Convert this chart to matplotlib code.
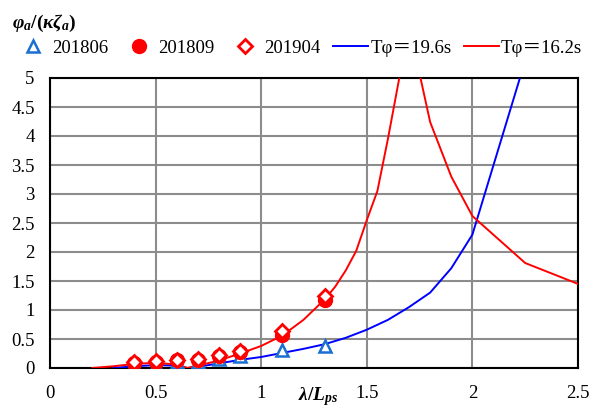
import matplotlib
matplotlib.use("Agg")
import matplotlib.pyplot as plt
from matplotlib.lines import Line2D

plt.rcParams['font.family'] = ['Liberation Serif', 'Noto Sans CJK SC', 'DejaVu Sans']
plt.rcParams['mathtext.fontset'] = 'custom'
plt.rcParams['mathtext.it'] = 'Liberation Serif:bold:italic'
plt.rcParams['mathtext.rm'] = 'Liberation Serif:bold'
plt.rcParams['mathtext.bf'] = 'Liberation Serif:bold'

# measured points
x_meas = [0.4, 0.5, 0.6, 0.7, 0.8, 0.9, 1.1, 1.3]
y_201806 = [0.05, 0.06, 0.10, 0.10, 0.15, 0.20, 0.31, 0.38]
y_201809 = [0.08, 0.10, 0.13, 0.14, 0.20, 0.28, 0.57, 1.17]
y_201904 = [0.10, 0.12, 0.13, 0.16, 0.22, 0.30, 0.64, 1.25]

# calculated curves
x_t196 = [0.3, 0.4, 0.5, 0.6, 0.65, 0.7, 0.8, 0.9, 1.0, 1.1, 1.2, 1.3, 1.4, 1.5, 1.6, 1.7, 1.8, 1.9, 2.0, 2.1, 2.2, 2.25]
y_t196 = [0.0, 0.03, 0.05, 0.04, 0.0, 0.02, 0.08, 0.14, 0.19, 0.26, 0.33, 0.41, 0.52, 0.66, 0.83, 1.05, 1.30, 1.72, 2.30, 3.50, 4.70, 5.30]
x_t162 = [0.2, 0.3, 0.4, 0.5, 0.6, 0.65, 0.7, 0.8, 0.9, 1.0, 1.1, 1.2, 1.3, 1.35, 1.4, 1.45, 1.5, 1.55, 1.6, 1.7, 1.8, 1.9, 2.0, 2.25, 2.5]
y_t162 = [0.0, 0.03, 0.07, 0.09, 0.06, 0.0, 0.04, 0.13, 0.25, 0.38, 0.56, 0.83, 1.18, 1.40, 1.68, 2.02, 2.55, 3.05, 3.95, 5.9, 4.24, 3.30, 2.62, 1.81, 1.45]

x_ticks = [0, 0.5, 1, 1.5, 2, 2.5]
y_ticks = [0, 0.5, 1, 1.5, 2, 2.5, 3, 3.5, 4, 4.5, 5]
x_tick_labels = ['0', '0.5', '1', '1.5', '2', '2.5']
y_tick_labels = ['0', '0.5', '1', '1.5', '2', '2.5', '3', '3.5', '4', '4.5', '5']

W, H = 592, 408
fig = plt.figure(figsize=(W / 100, H / 100), dpi=100)
ax = fig.add_axes([50 / W, (H - 368) / H, (578 - 50) / W, (368 - 78) / H])

blue_m = '#1a6fd1'
ax.plot(x_t196, y_t196, color='#0000ff', lw=1.4, zorder=3, clip_on=True)
ax.plot(x_t162, y_t162, color='#ff0000', lw=1.4, zorder=3, clip_on=True)
ax.plot(x_meas, y_201806, ls='none', marker='^', ms=8, mfc='white', mec=blue_m, mew=1.8, zorder=4)
ax.plot(x_meas, y_201809, ls='none', marker='o', ms=10, mfc='#ff0000', mec='#ff0000', zorder=5)
ax.plot(x_meas, y_201904, ls='none', marker='D', ms=7, mfc='white', mec='#ff0000', mew=2, zorder=6)

ax.set_xlim(0, 2.5)
ax.set_ylim(0, 5)
ax.set_xticks(x_ticks)
ax.set_xticklabels(x_tick_labels)
ax.set_yticks(y_ticks)
ax.set_yticklabels(y_tick_labels)
ax.tick_params(length=0, labelsize=13.5)
ax.tick_params(axis='x', pad=12)
ax.tick_params(axis='y', pad=11)
ax.grid(True, color='#8c8c8c', lw=1.5)
ax.set_axisbelow(True)
for s in ax.spines.values():
    s.set_color('black')
    s.set_linewidth(1.5)

fig.text(12 / W, 1 - 23 / H, r'$\varphi_a/(\kappa\zeta_a)$', fontsize=14, va='center', ha='left')
fig.text(318 / W, 1 - 397 / H, r'$\lambda/L_{ps}$', fontsize=14, va='center', ha='center')

handles = [
    Line2D([], [], ls='none', marker='^', ms=8, mfc='white', mec=blue_m, mew=1.8),
    Line2D([], [], ls='none', marker='o', ms=10, mfc='#ff0000', mec='#ff0000'),
    Line2D([], [], ls='none', marker='D', ms=7, mfc='white', mec='#ff0000', mew=2),
    Line2D([], [], color='#0000ff', lw=1.4),
    Line2D([], [], color='#ff0000', lw=1.4),
]
labels = ['201806', '201809', '201904', 'Tφ＝19.6s', 'Tφ＝16.2s']
fig.legend(handles, labels, loc='center left', bbox_to_anchor=(15 / W, 1 - 48 / H), ncol=5,
           frameon=False, fontsize=13.5, handlelength=1.9, handletextpad=0.1, columnspacing=0.65,
           borderaxespad=0, borderpad=0)

fig.savefig('out.png', dpi=100)
